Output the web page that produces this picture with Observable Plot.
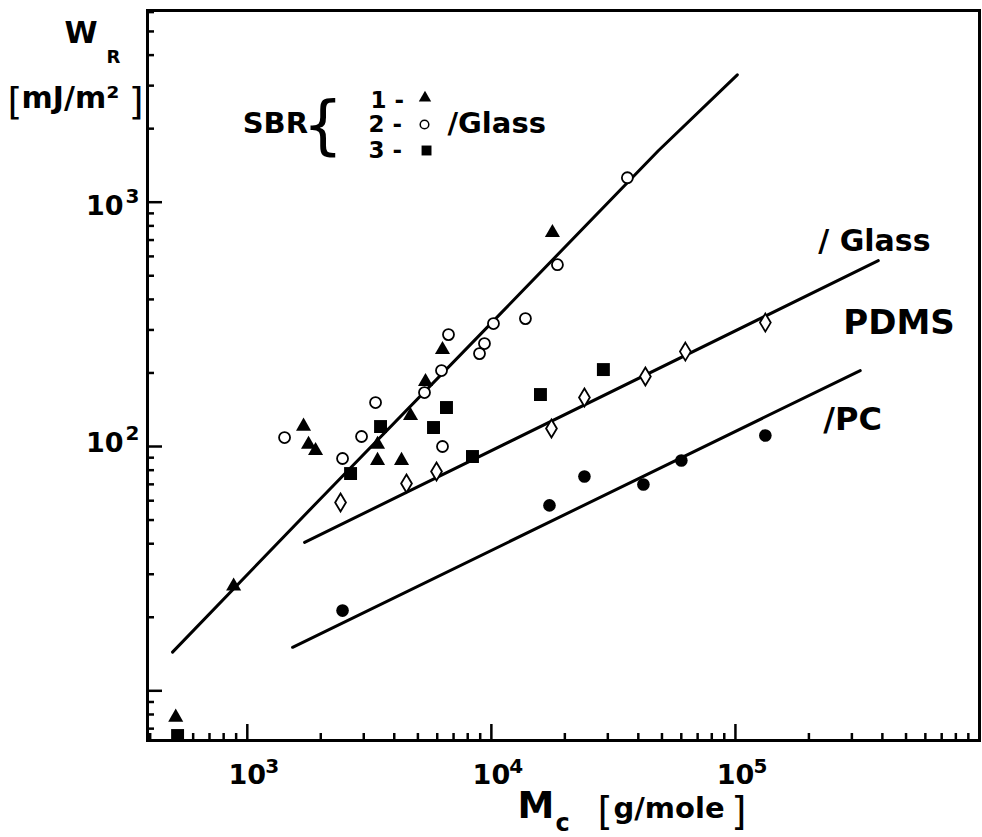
<!DOCTYPE html>
<html><head><meta charset="utf-8">
<script src="https://cdn.jsdelivr.net/npm/d3@7"></script>
<script src="https://cdn.jsdelivr.net/npm/@observablehq/plot@0.6"></script>
<style>html,body{margin:0;padding:0;background:#fff;} svg{display:block;}</style>
</head><body><div id="chart"></div>
<script>
// ---- data (Mc in g/mole, WR in mJ/m^2) ----
const sbr1Mc = [1700, 1782, 1904, 3417, 3417, 4284, 4664, 5372, 6306, 17790, 879, 509];
const sbr1Wr = [121, 102, 96.2, 102, 87.6, 87.6, 133.8, 184.3, 249, 750, 26.8, 7.79];

const sbr2Mc = [1421, 2456, 2938, 3353, 5321, 6247, 6673, 6306, 8941, 9370, 10200, 13790, 18650, 36080];
const sbr2Wr = [108.8, 89.3, 109.9, 151.3, 166.3, 204.6, 287.1, 100, 240, 263.8, 318.5, 333.8, 555, 1259];

const sbr3Mc = [518, 2649, 3515, 5793, 6548, 8368, 15890, 28770];
const sbr3Wr = [6.56, 77.5, 120.7, 119.6, 144.4, 91.0, 163.2, 206.5];

const pdmsGlassMc = [2410, 4490, 5960, 17630, 24060, 42760, 62350, 132600];
const pdmsGlassWr = [59.0, 70.6, 79.0, 118.5, 158.6, 193.3, 244.6, 321.5];

const pdmsPcMc = [2456, 17300, 24060, 41970, 60040, 132600];
const pdmsPcWr = [21.3, 57.4, 75.4, 69.9, 87.7, 110.9];

// fitted lines
const sbrFitMc = [494, 2000, 10900, 48300, 101800];
const sbrFitWr = [14.4, 61.3, 350, 1624, 3322];
const pdmsGlassFitMc = [1717, 384900];
const pdmsGlassFitWr = [40.5, 576.6];
const pdmsPcFitMc = [1533, 324600];
const pdmsPcFitWr = [15.07, 204.6];

// ticks
const xMajor = [1e3, 1e4, 1e5];
const xTickExp = ["3", "4", "5"];
const xMinor = [400,500,600,700,800,900, 2000,3000,4000,5000,6000,7000,8000,9000,
  20000,30000,40000,50000,60000,70000,80000,90000, 200000,300000,400000,500000,600000,700000,800000,900000];
const yMajor = [10, 100, 1000];
const yMinor = [7,8,9, 20,30,40,50,60,70,80,90, 200,300,400,500,600,700,800,900, 2000,3000,4000,5000,6000];

// in-plot annotations
const annotText = ["SBR", "/Glass", "/ Glass", "PDMS", "/PC"];
const annotMc = [957, 6609, 218500, 276600, 229100];
const annotWr = [1911, 1911, 634, 290, 116.3];
const annotSize = [29, 29, 30, 34, 32];

const legendNum = ["1 -", "2 -", "3 -"];
const legendNumMc = [3198, 3139, 3139];
const legendNumWr = [2441, 1929, 1510];
const legendSymMc = [5346, 5321, 5424];
const legendSymWr = [2670, 2080, 1628];
const braceMc = [2040], braceWr = [1684];

// ---- layout ----
const W = 982, H = 837;
const mL = 147, mR = 3, mT = 10, mB = 97;
const plotW = W - mL - mR, plotH = H - mT - mB;
const FONT = "DejaVu Sans";

const zip = (xs, ys) => xs.map((x, i) => ({mc: x, wr: ys[i]}));
const diamond = {draw(ctx, size) {
  const s = Math.sqrt(size / Math.PI);
  ctx.moveTo(0, -1.5 * s); ctx.lineTo(0.9 * s, 0); ctx.lineTo(0, 1.5 * s); ctx.lineTo(-0.9 * s, 0); ctx.closePath();
}};
const txt = (o) => ({fontFamily: FONT, fontWeight: "bold", fill: "black", lineAnchor: "bottom", ...o});

const marks = [
  // fit lines
  Plot.line(zip(sbrFitMc, sbrFitWr), {x: "mc", y: "wr", stroke: "black", strokeWidth: 3}),
  Plot.line(zip(pdmsGlassFitMc, pdmsGlassFitWr), {x: "mc", y: "wr", stroke: "black", strokeWidth: 3}),
  Plot.line(zip(pdmsPcFitMc, pdmsPcFitWr), {x: "mc", y: "wr", stroke: "black", strokeWidth: 3}),
  // data points
  Plot.dot(zip(pdmsPcMc, pdmsPcWr), {x: "mc", y: "wr", r: 6.3, fill: "black"}),
  Plot.dot(zip(pdmsGlassMc, pdmsGlassWr), {x: "mc", y: "wr", r: 6, symbol: diamond, fill: "white", stroke: "black", strokeWidth: 1.8}),
  Plot.dot(zip(sbr3Mc, sbr3Wr), {x: "mc", y: "wr", r: 7.3, symbol: "square", fill: "black", clip: true}),
  Plot.dot(zip(sbr2Mc, sbr2Wr), {x: "mc", y: "wr", r: 5.5, fill: "white", stroke: "black", strokeWidth: 1.8}),
  Plot.dot(zip(sbr1Mc, sbr1Wr), {x: "mc", y: "wr", r: 5.6, symbol: "triangle", fill: "black"}),
  // frame and inward ticks
  Plot.frame({stroke: "black", strokeWidth: 3}),
  Plot.tickY(yMinor, {y: d => d, insetRight: plotW - 7, stroke: "black", strokeWidth: 2.5}),
  Plot.tickY(yMajor, {y: d => d, insetRight: plotW - 15, stroke: "black", strokeWidth: 2.5}),
  Plot.tickX(xMinor, {x: d => d, insetTop: plotH - 7, stroke: "black", strokeWidth: 2.5}),
  Plot.tickX(xMajor, {x: d => d, insetTop: plotH - 16, stroke: "black", strokeWidth: 2.5}),
  // y tick labels
  Plot.text([1000], txt({y: d => d, text: () => "10", frameAnchor: "left", textAnchor: "end", dx: -24, dy: 13, fontSize: 27})),
  Plot.text([1000], txt({y: d => d, text: () => "3", frameAnchor: "left", textAnchor: "start", dx: -22, dy: 1, fontSize: 20})),
  Plot.text([100], txt({y: d => d, text: () => "10", frameAnchor: "left", textAnchor: "end", dx: -24, dy: 5, fontSize: 27})),
  Plot.text([100], txt({y: d => d, text: () => "2", frameAnchor: "left", textAnchor: "start", dx: -22, dy: -7, fontSize: 20})),
  // x tick labels
  Plot.text(xMajor, txt({x: d => d, text: () => "10", frameAnchor: "bottom", textAnchor: "middle", dy: 43, fontSize: 27})),
  Plot.text(xMajor, txt({x: d => d, text: (d, i) => xTickExp[i], frameAnchor: "bottom", textAnchor: "start", dx: 18, dy: 32, fontSize: 20})),
  // y axis title
  Plot.text(["W"], txt({text: d => d, frameAnchor: "top-left", textAnchor: "start", dx: -83, dy: 32, fontSize: 30})),
  Plot.text(["R"], txt({text: d => d, frameAnchor: "top-left", textAnchor: "start", dx: -41, dy: 52, fontSize: 18})),
  Plot.text(["["], txt({text: d => d, frameAnchor: "top-left", textAnchor: "start", dx: -140, dy: 103, fontSize: 38, fontWeight: "normal"})),
  Plot.text(["mJ/m²"], txt({text: d => d, frameAnchor: "top-left", textAnchor: "start", dx: -126, dy: 97, fontSize: 30})),
  Plot.text(["]"], txt({text: d => d, frameAnchor: "top-left", textAnchor: "end", dx: -4, dy: 103, fontSize: 38, fontWeight: "normal"})),
  // x axis title
  Plot.text(["M"], txt({text: d => d, frameAnchor: "bottom-left", textAnchor: "start", dx: 370, dy: 77, fontSize: 37})),
  Plot.text(["c"], txt({text: d => d, frameAnchor: "bottom-left", textAnchor: "start", dx: 408, dy: 90, fontSize: 24})),
  Plot.text(["["], txt({text: d => d, frameAnchor: "bottom-left", textAnchor: "start", dx: 450, dy: 84, fontSize: 39, fontWeight: "normal"})),
  Plot.text(["g/mole"], txt({text: d => d, frameAnchor: "bottom-left", textAnchor: "start", dx: 466, dy: 77, fontSize: 29})),
  Plot.text(["]"], txt({text: d => d, frameAnchor: "bottom-left", textAnchor: "end", dx: 599, dy: 84, fontSize: 39, fontWeight: "normal"})),
  // in-plot annotations
  ...annotText.map((t, i) => Plot.text([t], txt({x: () => annotMc[i], y: () => annotWr[i], text: d => d, textAnchor: "start", fontSize: annotSize[i]}))),
  Plot.text(["{"], txt({x: () => braceMc[0], y: () => braceWr[0], text: d => d, textAnchor: "middle", fontSize: 64, fontWeight: "normal"})),
  Plot.text(legendNum, txt({x: (d, i) => legendNumMc[i], y: (d, i) => legendNumWr[i], text: d => d, textAnchor: "start", fontSize: 23})),
  Plot.dot([0], {x: () => legendSymMc[0], y: () => legendSymWr[0], r: 4.6, symbol: "triangle", fill: "black"}),
  Plot.dot([0], {x: () => legendSymMc[1], y: () => legendSymWr[1], r: 4.3, fill: "white", stroke: "black", strokeWidth: 1.5}),
  Plot.dot([0], {x: () => legendSymMc[2], y: () => legendSymWr[2], r: 5.6, symbol: "square", fill: "black"})
];

const chart = Plot.plot({
  width: W, height: H,
  marginLeft: mL, marginRight: mR, marginTop: mT, marginBottom: mB,
  style: {background: "white", fontFamily: FONT, color: "black", overflow: "visible"},
  x: {type: "log", domain: [390, 1e6], axis: null},
  y: {type: "log", domain: [6.26, 6091], axis: null},
  marks
});
document.getElementById("chart").appendChild(chart);
</script>
</body></html>
